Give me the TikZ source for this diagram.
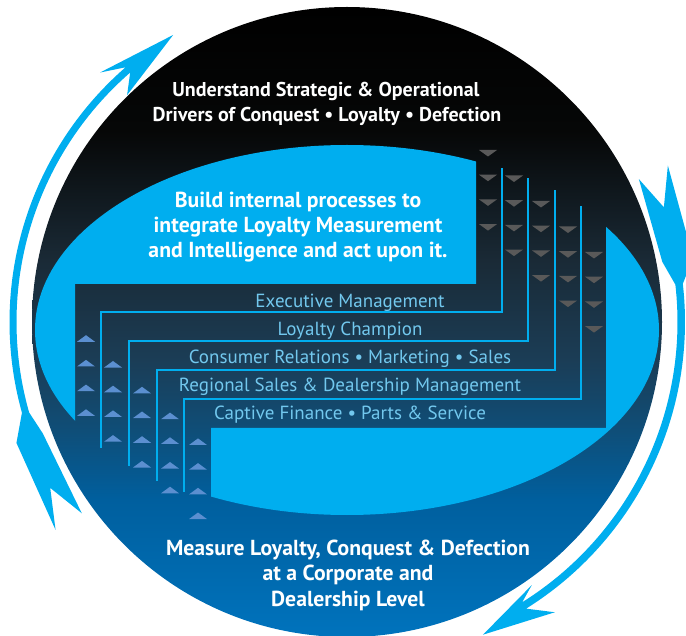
\documentclass[tikz,border=0pt]{standalone}
\usepackage{fontspec}
\setmainfont{PT Sans}
\definecolor{lblue}{HTML}{00AEEF}
\definecolor{labelblue}{HTML}{72C8EE}
\definecolor{downgray}{HTML}{595959}
\definecolor{upblue}{HTML}{5B8FD0}
\definecolor{gA}{HTML}{000000}
\definecolor{gB}{HTML}{060707}
\definecolor{gC}{HTML}{1A2A36}
\definecolor{gD}{HTML}{1B3D56}
\definecolor{gE}{HTML}{0F4E78}
\definecolor{gF}{HTML}{005F9E}
\definecolor{gG}{HTML}{0073BD}
\pgfdeclareverticalshading{circshade}{100bp}{color(0bp)=(gG); color(25bp)=(gG); color(35.9bp)=(gF); color(41.4bp)=(gE); color(47bp)=(gD); color(54.9bp)=(gC); color(65.2bp)=(gB); color(75bp)=(gA); color(100bp)=(gA)}
\tikzset{
  heading/.style={text=white, font=\bfseries\fontsize{20}{24}\selectfont, anchor=base, inner sep=0pt},
  bigheading/.style={heading, font=\bfseries\fontsize{21.7}{26}\selectfont},
  tier/.style={text=labelblue, font=\fontsize{19}{23}\selectfont, anchor=base, inner sep=0pt},
  stairline/.style={draw=lblue, line width=1.6pt},
  cyclearrow/.style={fill=lblue},
}
\begin{document}
\begin{tikzpicture}[x=1pt,y=-1pt]
\useasboundingbox (0,0) rectangle (686,636);
% main circle with gradient
\shade[shading=circshade] (347,322) circle (315);
% light blue ellipse, upper-left part
\begin{scope}
  \clip (347,322) circle (315);
  \clip (0,0) -- (476,0) -- (476,284) -- (75,284) -- (75,700) -- (0,700) -- cycle;
  \fill[lblue] (347,330) ellipse [x radius=312, y radius=185];
\end{scope}
% light blue ellipse, lower-right part
\begin{scope}
  \clip (347,322) circle (315);
  \clip (211,428) -- (606,428) -- (606,0) -- (700,0) -- (700,700) -- (211,700) -- cycle;
  \fill[lblue] (347,330) ellipse [x radius=312, y radius=185];
\end{scope}
% stair lines
\draw[stairline] (101,448) -- (101,312) -- (502,312) -- (502,168);
\draw[stairline] (129,466) -- (129,341) -- (528,341) -- (528,178);
\draw[stairline] (157,481) -- (157,370) -- (555,370) -- (555,190);
\draw[stairline] (184,492) -- (184,399) -- (581,399) -- (581,206);
% down triangles
\foreach \i/\x in {0/488,1/514,2/541,3/568,4/594}{
  \foreach \j in {0,1,2,3}{
    \pgfmathsetmacro\yy{153+25.5*\i+24.7*\j}
    \fill[downgray] (\x-9,\yy-3) -- (\x+9,\yy-3) -- (\x,\yy+3.5) -- cycle;
  }
}
% up triangles
\foreach \i/\x in {0/86,1/113,2/142,3/170,4/198}{
  \foreach \j in {0,1,2,3}{
    \pgfmathsetmacro\yy{338.5+25.8*\i+24.7*\j}
    \fill[upblue] (\x-9,\yy+3.3) -- (\x+9,\yy+3.3) -- (\x,\yy-3.3) -- cycle;
  }
}
% tier labels
\node[tier] (t1) at (350,308) {Executive Management};
\node[tier] (t2) at (350,336) {Loyalty Champion};
\node[tier] (t3) at (350,364) {Consumer Relations • Marketing • Sales};
\node[tier] (t4) at (350,392) {Regional Sales \& Dealership Management};
\node[tier] (t5) at (350,419.5) {Captive Finance • Parts \& Service};
% headings
\node[heading] (h1) at (326,97) {Understand Strategic \& Operational};
\node[heading] (h2) at (327,122) {Drivers of Conquest • Loyalty • Defection};
\node[bigheading] (m1) at (298,208) {Build internal processes to};
\node[bigheading] (m2) at (298,233) {integrate Loyalty Measurement};
\node[bigheading] (m3) at (298,258) {and Intelligence and act upon it.};
\node[bigheading] (b1) at (348,555) {Measure Loyalty, Conquest \& Defection};
\node[bigheading] (b2) at (348,580.5) {at a Corporate and};
\node[bigheading] (b3) at (348,606) {Dealership Level};
% cycle arrows
\begin{scope}[shift={(347,322)}]
  \fill[cyclearrow] (144.5:358) -- (159.9:352) -- (164.4:337.5)
    arc[start angle=164.4, end angle=229, radius=337.5]
    -- (225.3:351) -- (238.8:335.6) -- (225.9:316) -- (229:330.5)
    arc[start angle=229, end angle=164.1, radius=330.5]
    -- (159.9:324) -- (144.2:327) -- (150.8:340) -- cycle;
  \fill[cyclearrow] (-26:357) -- (-10.5:352) -- (-6.5:338)
    arc[start angle=-6.5, end angle=58, radius=338]
    -- (54.4:357) -- (66.5:341) -- (54.9:321.5) -- (58:330.5)
    arc[start angle=58, end angle=-6.5, radius=330.5]
    -- (-10.8:321) -- (-26.1:325) -- (-19.9:337) -- cycle;
\end{scope}
\end{tikzpicture}
\end{document}
